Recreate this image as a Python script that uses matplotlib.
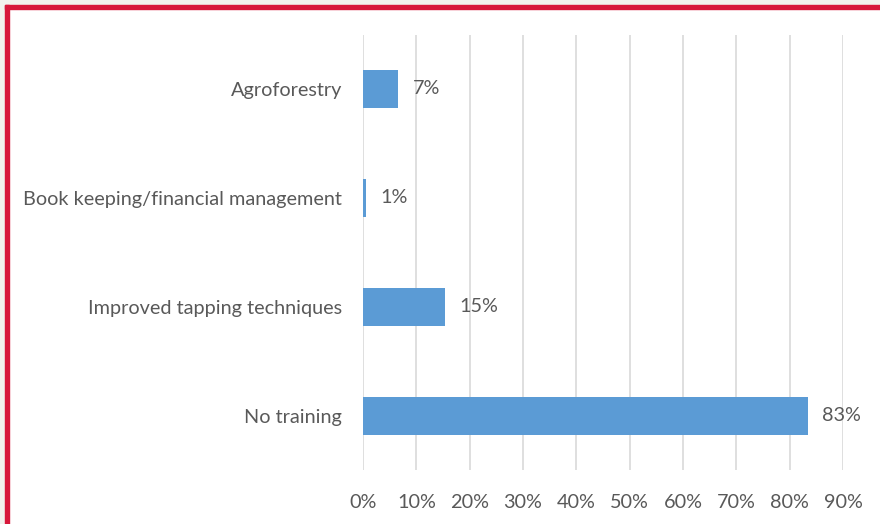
import matplotlib.pyplot as plt
from matplotlib.patches import Rectangle

# training received by respondents (share of farmers)
categories = ['No training', 'Improved tapping techniques',
              'Book keeping/financial management', 'Agroforestry']
values = [83.4, 15.4, 0.6, 6.6]
labels = ['83%', '15%', '1%', '7%']
ticks = [0, 10, 20, 30, 40, 50, 60, 70, 80, 90]

plt.rcParams['font.family'] = ['Lato', 'DejaVu Sans']
text_col = '#595959'
fs = 14.3

W, H = 880, 524
fig = plt.figure(figsize=(W / 100, H / 100), dpi=100)
fig.patch.set_facecolor('white')

# grey page margin and red frame (top and left only visible)
fig.patches.append(Rectangle((0, 0), 5 / W, 1, transform=fig.transFigure,
                             color='#f2f1ed', zorder=0))
fig.patches.append(Rectangle((0, 1 - 5 / H), 1, 5 / H, transform=fig.transFigure,
                             color='#f2f1ed', zorder=0))
fig.patches.append(Rectangle((5 / W, 0), 4 / W, 1 - 5 / H, transform=fig.transFigure,
                             color='#d7173a', zorder=1))
fig.patches.append(Rectangle((5 / W, 1 - 9 / H), 1 - 5 / W, 4 / H, transform=fig.transFigure,
                             color='#d7173a', zorder=1))

ax = fig.add_axes([363 / W, 1 - 470 / H, (843 - 363) / W, (470 - 34.5) / H])
y = range(len(categories))
ax.barh(y, values, height=0.35, color='#5b9bd5', zorder=3)

for yi, v, lab in zip(y, values, labels):
    ax.text(v + 2.7, yi, lab, va='center', ha='left', fontsize=fs, color=text_col)

ax.set_xlim(0, 90)
ax.set_ylim(-0.5, 3.5)
ax.set_xticks(ticks)
ax.set_xticklabels([f'{t}%' for t in ticks], fontsize=fs, color=text_col)
ax.set_yticks(list(y))
ax.set_yticklabels(categories, fontsize=fs, color=text_col)
ax.tick_params(axis='x', length=0, pad=17)
ax.tick_params(axis='y', length=0, pad=15)
ax.grid(axis='x', color='#d9d9d9', linewidth=1.2, zorder=0)
for s in ax.spines.values():
    s.set_visible(False)
ax.set_facecolor('none')

fig.savefig('out.png', dpi=100)
